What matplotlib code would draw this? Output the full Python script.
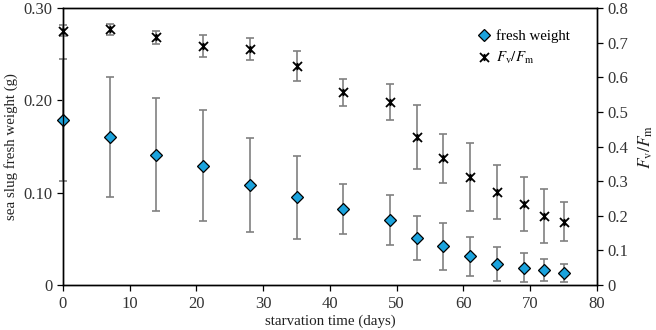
import numpy as np
import matplotlib.pyplot as plt
from matplotlib.path import Path

plt.rcParams['font.family'] = ['Liberation Serif', 'DejaVu Serif']
plt.rcParams['mathtext.fontset'] = 'stix'

days = [0, 7, 14, 21, 28, 35, 42, 49, 53, 57, 61, 65, 69, 72, 75]
fresh = [0.179, 0.160, 0.141, 0.129, 0.108, 0.095, 0.082, 0.070, 0.051, 0.042,
         0.031, 0.023, 0.019, 0.016, 0.013]
fresh_err = [0.066, 0.065, 0.061, 0.060, 0.051, 0.045, 0.027, 0.027, 0.0235, 0.0255,
             0.0215, 0.018, 0.016, 0.012, 0.0095]
fvfm = [0.734, 0.738, 0.715, 0.690, 0.681, 0.632, 0.556, 0.529, 0.428, 0.366,
        0.311, 0.269, 0.235, 0.199, 0.183]
fvfm_err = [0.016, 0.016, 0.019, 0.033, 0.031, 0.044, 0.038, 0.052, 0.093, 0.070,
            0.098, 0.079, 0.078, 0.078, 0.056]

# x with a vertical stroke, like the spreadsheet "star" marker
star = Path([(-1, -1), (1, 1), (-1, 1), (1, -1), (0, -0.8), (0, 0.8)],
            [Path.MOVETO, Path.LINETO, Path.MOVETO, Path.LINETO, Path.MOVETO, Path.LINETO])

fig = plt.figure(figsize=(6.56, 3.30), dpi=100)
ax = fig.add_axes([0.096, 0.136, 0.814, 0.840])
ax2 = ax.twinx()

eb1 = ax.errorbar(days, fresh, yerr=fresh_err, fmt='none', ecolor='#808080', elinewidth=1.2,
                  capsize=3, capthick=1.2, zorder=2)
h1, = ax.plot(days, fresh, linestyle='none', marker='D', markersize=6,
              markerfacecolor='#1ba3dd', markeredgecolor='black', markeredgewidth=0.9,
              label='fresh weight', zorder=3, clip_on=False)

eb2 = ax2.errorbar(days, fvfm, yerr=fvfm_err, fmt='none', ecolor='#808080', elinewidth=1.2,
                   capsize=3, capthick=1.2, zorder=2)
h2, = ax2.plot(days, fvfm, linestyle='none', marker=star, markersize=6.5,
               markeredgecolor='black', markeredgewidth=1.3, color='black',
               label=r'$F_{\mathrm{v}}/F_{\mathrm{m}}$', zorder=3, clip_on=False)
for eb in (eb1, eb2):
    for art in eb.lines[1] + eb.lines[2]:
        art.set_clip_on(False)

ax.set_xlim(0, 80)
ax.set_ylim(0, 0.30)
ax2.set_ylim(0, 0.8)
ax.set_xticks(range(0, 81, 10))
ax.set_yticks([0, 0.10, 0.20, 0.30])
ax.set_yticklabels(['0', '0.10', '0.20', '0.30'])
ax2.set_yticks(np.arange(0, 0.81, 0.1))
ax2.set_yticklabels(['0'] + ['%.1f' % v for v in np.arange(0.1, 0.81, 0.1)])

for a in (ax, ax2):
    a.tick_params(labelsize=12, direction='out', length=4, width=0.9, colors='black',
                  labelcolor='#333333')
    for s in a.spines.values():
        s.set_linewidth(1.0)

ax.set_xlabel('starvation time (days)', fontsize=10.8, labelpad=2, color='#222222')
ax.set_ylabel('sea slug fresh weight (g)', fontsize=10.8, labelpad=4, color='#222222')
ax2.set_ylabel(r'$F_{\mathrm{v}}/F_{\mathrm{m}}$', fontsize=12.5, labelpad=6, color='#222222')

ax2.legend(handles=[h1, h2], loc='upper right', bbox_to_anchor=(0.975, 0.97),
           frameon=False, fontsize=10.7, handlelength=0.8, handletextpad=0.4,
           labelspacing=0.45)

fig.savefig('out.png', dpi=100)
